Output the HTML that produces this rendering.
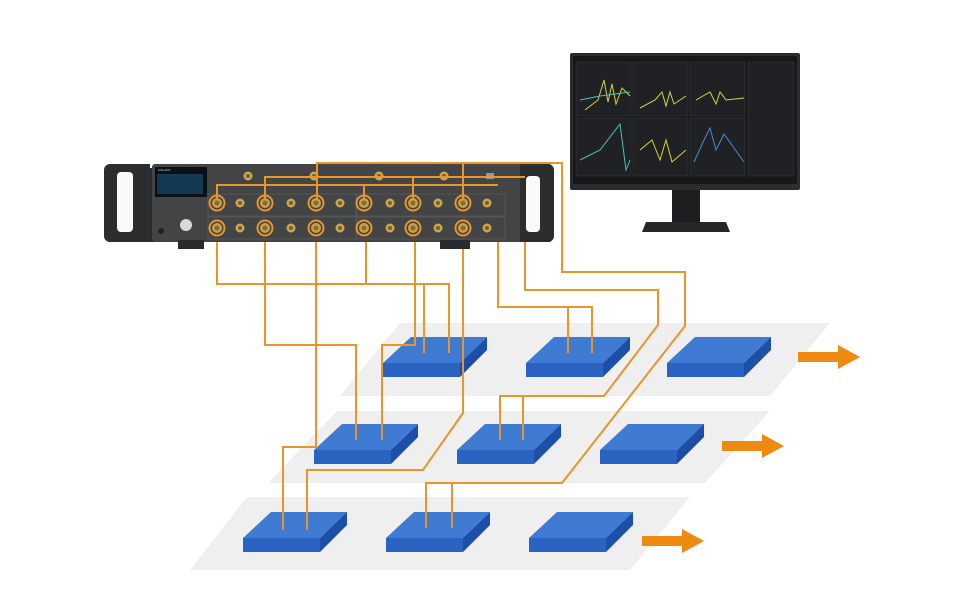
<!DOCTYPE html>
<html><head><meta charset="utf-8"><style>
html,body{margin:0;padding:0;background:#fff;width:970px;height:606px;overflow:hidden}
svg{display:block}
text{font-family:"Liberation Sans",sans-serif}
</style></head><body>
<svg width="970" height="606" viewBox="0 0 970 606" xmlns="http://www.w3.org/2000/svg">
<defs>
<g id="blk">
<polygon points="28,0 104,0 77,26 0,26" fill="#3f7bd2"/>
<rect x="0" y="26" width="77" height="14" fill="#2a63c2"/>
<polygon points="77,26 104,0 104,13 77,40" fill="#1e4fa8"/>
</g>
<g id="arr">
<rect x="0" y="-5" width="42" height="10" fill="#ee8a12"/>
<polygon points="40,-12 62,0 40,12" fill="#ee8a12"/>
</g>
<g id="bp"><circle r="7.5" fill="none" stroke="#e8952a" stroke-width="2"/><circle r="5" fill="#c8a24a"/><circle r="2.5" fill="#8a6a2a"/></g>
<g id="sp"><circle r="4.5" fill="#c9a650"/><circle r="2" fill="#7a5e28"/></g>
</defs>

<!-- planes -->
<polygon points="400,323 830,323 770,396 340,396" fill="#efefef"/>
<polygon points="337,411 770,411 705,483 268,483" fill="#efefef"/>
<polygon points="247,497 690,497 630,570 190,570" fill="#efefef"/>

<!-- blocks -->
<use href="#blk" x="383" y="337"/>
<use href="#blk" x="526" y="337"/>
<use href="#blk" x="667" y="337"/>
<use href="#blk" x="314" y="424"/>
<use href="#blk" x="457" y="424"/>
<use href="#blk" x="600" y="424"/>
<use href="#blk" x="243" y="512"/>
<use href="#blk" x="386" y="512"/>
<use href="#blk" x="529" y="512"/>

<use href="#arr" x="798" y="357"/>
<use href="#arr" x="722" y="446"/>
<use href="#arr" x="642" y="541"/>

<!-- orange lines -->
<g fill="none" stroke="#e8952a" stroke-width="2">
<polyline points="217,228 217,284 449,284 449,353"/>
<polyline points="366,228 366,284"/>
<polyline points="424,284 424,353"/>
<polyline points="415,228 415,345 382,345 382,440"/>
<polyline points="265,228 265,345 356,345 356,440"/>
<polyline points="316,228 316,447 283,447 283,530"/>
<polyline points="463,228 463,413 423,470 307,470 307,530"/>
<polyline points="498,185 498,307 592,307 592,353"/>
<polyline points="568,307 568,353"/>
<polyline points="525,177 525,290 658,290 658,325 604,396 500,396 500,440"/>
<polyline points="523,396 523,440"/>
<polyline points="562,165 562,272 685,272 685,326 562,483 426,483 426,528"/>
<polyline points="452,483 452,528"/>
</g>

<!-- monitor -->
<rect x="672" y="188" width="28" height="36" fill="#1d1e20"/>
<polygon points="646,222 726,222 730,232 642,232" fill="#26272a"/>
<rect x="570" y="53" width="230" height="137" rx="2" fill="#2b2c2e"/>
<rect x="573" y="56" width="224" height="128" fill="#161719"/>
<g fill="#1f2124" stroke="#3a3d40" stroke-width="0.5">
<rect x="576" y="62" width="55" height="54"/><rect x="633" y="62" width="55" height="54"/><rect x="690" y="62" width="55" height="54"/>
<rect x="576" y="118" width="55" height="58"/><rect x="633" y="118" width="55" height="58"/><rect x="690" y="118" width="55" height="58"/>
<rect x="748" y="62" width="46" height="114"/>
</g>
<g fill="none" stroke-width="1">
<polyline points="585,110 598,100 604,80 608,102 612,84 616,104 622,88 630,96" stroke="#d6d23a"/>
<polyline points="640,108 655,100 662,92 666,106 670,92 674,104 686,96" stroke="#d6d23a"/>
<polyline points="696,100 710,92 716,104 720,92 726,100 744,98" stroke="#d6d23a"/>
<polyline points="580,160 600,150 620,124 626,170 630,160" stroke="#4ac0c0"/>
<polyline points="640,150 652,140 660,160 666,140 672,162 686,150" stroke="#d6d23a"/>
<polyline points="694,162 704,140 710,128 716,150 724,134 744,162" stroke="#4a8ad0"/>
<polyline points="580,100 600,96 630,92" stroke="#4ac0c0"/>
</g>

<!-- instrument -->
<rect x="150" y="168" width="370" height="74" fill="#2a2b2d"/>
<rect x="152" y="164" width="400" height="78" rx="3" fill="#434446"/>
<path d="M110,164 h40 v78 h-40 a6,6 0 0 1 -6,-6 v-66 a6,6 0 0 1 6,-6z" fill="#2c2d2f"/>
<rect x="117" y="172" width="16" height="60" rx="4" fill="#fafafa"/>
<path d="M520,164 h28 a6,6 0 0 1 6,6 v66 a6,6 0 0 1 -6,6 h-28z" fill="#2c2d2f"/>
<rect x="526" y="176" width="14" height="56" rx="4" fill="#fafafa"/>
<rect x="178" y="240" width="26" height="9" fill="#2a2b2d"/>
<rect x="440" y="240" width="30" height="9" fill="#2a2b2d"/>
<rect x="155" y="167" width="52" height="30" fill="#0c0f14"/>
<rect x="157" y="174" width="46" height="20" fill="#123a52"/>
<text x="158" y="171" font-size="3" fill="#ccc">SIGLENT</text>
<circle cx="186" cy="225" r="6" fill="#d8d8d8"/>
<circle cx="161" cy="231" r="3" fill="#222"/>
<rect x="208" y="194" width="148" height="22" fill="none" stroke="#5a5b5d" stroke-width="0.8"/>
<rect x="208" y="217" width="148" height="22" fill="none" stroke="#5a5b5d" stroke-width="0.8"/>
<rect x="357" y="194" width="148" height="22" fill="none" stroke="#5a5b5d" stroke-width="0.8"/>
<rect x="357" y="217" width="148" height="22" fill="none" stroke="#5a5b5d" stroke-width="0.8"/>
<use href="#sp" x="248" y="176"/><use href="#sp" x="314" y="176"/><use href="#sp" x="379" y="176"/><use href="#sp" x="444" y="176"/>
<rect x="486" y="173" width="8" height="6" fill="#999"/>
<!-- top connecting lines on panel -->
<g fill="none" stroke="#e8952a" stroke-width="2">
<polyline points="317,203 317,163 562,163 562,166"/>
<polyline points="463,203 463,163"/>
<polyline points="265,203 265,177 525,177"/>
<polyline points="413,203 413,177"/>
<polyline points="217,203 217,185 498,185"/>
<polyline points="364,203 364,185"/>
</g>
<g>
<use href="#bp" x="217" y="203"/><use href="#bp" x="265" y="203"/><use href="#bp" x="316" y="203"/><use href="#bp" x="364" y="203"/><use href="#bp" x="413" y="203"/><use href="#bp" x="463" y="203"/>
<use href="#bp" x="217" y="228"/><use href="#bp" x="265" y="228"/><use href="#bp" x="316" y="228"/><use href="#bp" x="364" y="228"/><use href="#bp" x="413" y="228"/><use href="#bp" x="463" y="228"/>
<use href="#sp" x="240" y="203"/><use href="#sp" x="291" y="203"/><use href="#sp" x="340" y="203"/><use href="#sp" x="390" y="203"/><use href="#sp" x="438" y="203"/><use href="#sp" x="487" y="203"/>
<use href="#sp" x="240" y="228"/><use href="#sp" x="291" y="228"/><use href="#sp" x="340" y="228"/><use href="#sp" x="390" y="228"/><use href="#sp" x="438" y="228"/><use href="#sp" x="487" y="228"/>
</g>
</svg>
</body></html>
